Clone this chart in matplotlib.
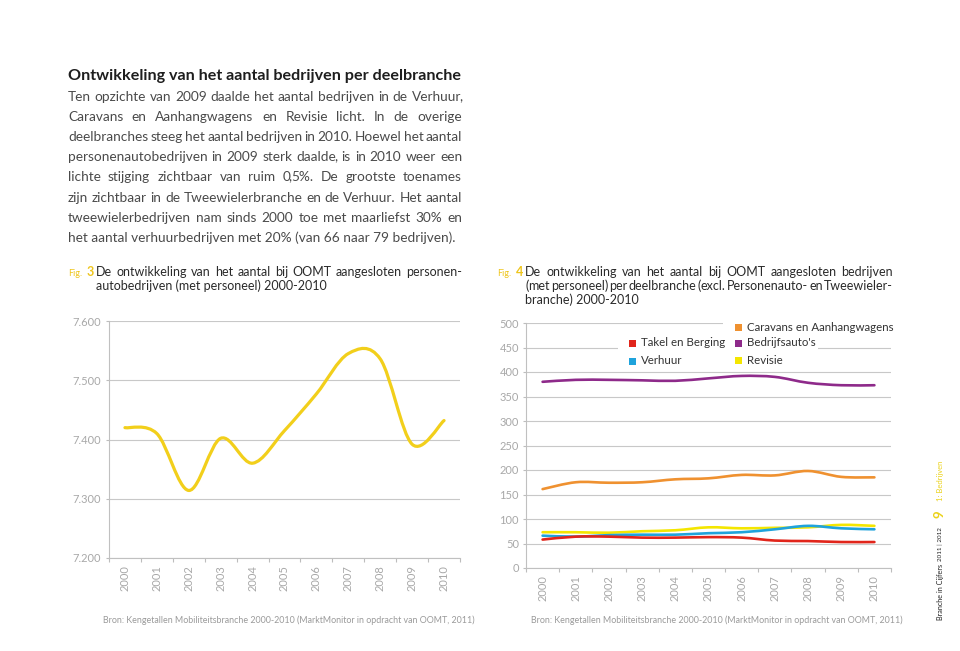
import re
import matplotlib
matplotlib.use('Agg')
import matplotlib.pyplot as plt
from matplotlib.path import Path
from matplotlib.patches import PathPatch, Rectangle
import numpy as np

plt.rcParams['font.family'] = ['Lato', 'DejaVu Sans']

years = ['2000', '2001', '2002', '2003', '2004', '2005', '2006', '2007', '2008', '2009', '2010']

# fig. 3 - personenautobedrijven
personenauto = [7420, 7410, 7314, 7402, 7360, 7415, 7477, 7545, 7536, 7392, 7432]
left_ticks = [7200, 7300, 7400, 7500, 7600]
left_labels = ['7.200', '7.300', '7.400', '7.500', '7.600']

# fig. 4 - per deelbranche
takel = [58, 64, 64, 62, 62, 63, 62, 56, 55, 53, 53]
verhuur = [66, 64, 67, 68, 68, 71, 73, 79, 86, 81, 79]
caravans = [161, 175, 174, 175, 181, 183, 190, 189, 198, 186, 185]
bedrijfsauto = [380, 384, 384, 383, 382, 387, 392, 390, 378, 373, 373]
revisie = [73, 73, 72, 75, 77, 83, 81, 82, 83, 88, 86]
right_ticks = [0, 50, 100, 150, 200, 250, 300, 350, 400, 450, 500]

heading = 'Ontwikkeling van het aantal bedrijven per deelbranche'
body = ['Ten opzichte van 2009 daalde het aantal bedrijven in de Verhuur,',
        'Caravans en Aanhangwagens en Revisie licht. In de overige',
        'deelbranches steeg het aantal bedrijven in 2010. Hoewel het aantal',
        'personenautobedrijven in 2009 sterk daalde, is in 2010 weer een',
        'lichte stijging zichtbaar van ruim 0,5%. De grootste toenames',
        'zijn zichtbaar in de Tweewielerbranche en de Verhuur. Het aantal',
        'tweewielerbedrijven nam sinds 2000 toe met maarliefst 30% en',
        'het aantal verhuurbedrijven met 20% (van 66 naar 79 bedrijven).']
cap3 = ['De ontwikkeling van het aantal bij OOMT aangesloten personen-',
        'autobedrijven (met personeel) 2000-2010']
cap4 = ['De ontwikkeling van het aantal bij OOMT aangesloten bedrijven',
        '(met personeel) per deelbranche (excl. Personenauto- en Tweewieler-',
        'branche) 2000-2010']
bron = 'Bron: Kengetallen Mobiliteitsbranche 2000-2010 (MarktMonitor in opdracht van OOMT, 2011)'

W, H = 960, 651
fig = plt.figure(figsize=(9.6, 6.51), dpi=100)
r = fig.canvas.get_renderer()

def fx(x):
    return x / W

def fy(y):
    return 1 - y / H

def justify(line, x0, x1, y, **kw):
    # y is the baseline in pixels; commas get their own text so words stay on the baseline
    words = []
    for w in line.split():
        parts = [p for p in re.split(r'([,()])', w) if p]
        arts = [fig.text(0, fy(y), p, va='baseline', **kw) for p in parts]
        widths = [a.get_window_extent(r).width for a in arts]
        shifts = [-2 if p == ',' else 0 for p in parts]
        words.append((arts, widths, shifts))
    total = sum(sum(ws) + sum(sh) for _, ws, sh in words)
    gap = (x1 - x0 - total) / (len(words) - 1)
    x = x0
    for arts, widths, shifts in words:
        for a, w, s in zip(arts, widths, shifts):
            x += s
            a.set_x(fx(x))
            x += w
        x += gap

def smooth(ax, y, color, lw):
    # bezier smoothing like the "smoothed line" option
    pts = np.column_stack([np.arange(len(y)), y]).astype(float)
    p = np.vstack([pts[0], pts, pts[-1]])
    verts = [pts[0]]
    codes = [Path.MOVETO]
    for i in range(len(pts) - 1):
        c1 = p[i + 1] + (p[i + 2] - p[i]) / 6
        c2 = p[i + 2] - (p[i + 3] - p[i + 1]) / 6
        verts += [c1, c2, pts[i + 1]]
        codes += [Path.CURVE4] * 3
    ax.add_patch(PathPatch(Path(verts, codes), fill=False, edgecolor=color,
                           lw=lw, capstyle='round', joinstyle='round', zorder=3))

def style(ax, ticks, labels, pad):
    ax.set_xlim(-0.5, 10.5)
    ax.set_ylim(ticks[0], ticks[-1])
    ax.set_yticks(ticks)
    ax.set_yticklabels(labels)
    ax.set_xticks(np.arange(-0.5, 11, 1))
    ax.set_xticklabels([])
    ax.set_xticks(range(11), minor=True)
    ax.set_xticklabels(years, minor=True, rotation=90)
    ax.tick_params(axis='x', which='major', length=3, color='#bdbdbd', width=0.8)
    ax.tick_params(axis='x', which='minor', length=0, pad=5, labelsize=8, labelcolor='#a8a8a8')
    ax.tick_params(axis='y', length=2, color='#bdbdbd', pad=pad, labelsize=8, labelcolor='#a8a8a8')
    ax.grid(axis='y', color='#c8c8c8', lw=0.8)
    for s in ['top', 'right']:
        ax.spines[s].set_visible(False)
    for s in ['left', 'bottom']:
        ax.spines[s].set_color('#c0c0c0')
        ax.spines[s].set_linewidth(0.8)

# text block
fig.text(fx(68), fy(76), heading, fontsize=11.6, fontweight='bold', color='#1e1e1e', va='center')
for i, line in enumerate(body):
    y = 101 + 20.1 * i
    if i < len(body) - 1:
        justify(line, 68, 462, y, fontsize=9.8, color='#4a4a4a')
    else:
        fig.text(fx(68), fy(y), line, fontsize=9.8, color='#4a4a4a', va='baseline')

# captions
fig.text(fx(68), fy(276), 'Fig.', fontsize=6.5, color='#eec51c', va='baseline')
fig.text(fx(87), fy(276), '3', fontsize=9, fontweight='bold', color='#eec51c', va='baseline')
justify(cap3[0], 96, 462, 276, fontsize=9, color='#2a2a2a')
fig.text(fx(96), fy(290), cap3[1], fontsize=9, color='#2a2a2a', va='baseline')

fig.text(fx(497), fy(276), 'Fig.', fontsize=6.5, color='#eec51c', va='baseline')
fig.text(fx(516), fy(276), '4', fontsize=9, fontweight='bold', color='#eec51c', va='baseline')
justify(cap4[0], 525, 893, 276, fontsize=9, color='#2a2a2a')
justify(cap4[1], 525, 893, 290, fontsize=9, color='#2a2a2a')
fig.text(fx(525), fy(304), cap4[2], fontsize=9, color='#2a2a2a', va='baseline')

# fig. 3
ax1 = fig.add_axes([fx(109), fy(558), (460 - 109) / W, (558 - 321) / H])
style(ax1, left_ticks, left_labels, 4)
smooth(ax1, personenauto, '#f2cf1b', 2.3)

# fig. 4
ax2 = fig.add_axes([fx(526), fy(568), (891 - 526) / W, (568 - 323) / H])
style(ax2, right_ticks, [str(t) for t in right_ticks], 3)
smooth(ax2, bedrijfsauto, '#8e2a8a', 1.9)
smooth(ax2, caravans, '#ef9130', 1.9)
smooth(ax2, revisie, '#f4e600', 1.9)
smooth(ax2, verhuur, '#1fa3dc', 1.9)
smooth(ax2, takel, '#e1251b', 1.9)

# legend (gridlines are broken behind it)
fig.add_artist(Rectangle((fx(618), fy(355)), 200 / W, 14 / H, transform=fig.transFigure,
                         facecolor='white', edgecolor='none', zorder=2))
fig.add_artist(Rectangle((fx(723), fy(331)), 175 / W, 14 / H, transform=fig.transFigure,
                         facecolor='white', edgecolor='none', zorder=2))
legend = [('Takel en Berging', '#e1251b', 632, 343),
          ('Verhuur', '#1fa3dc', 632, 361),
          ('Caravans en Aanhangwagens', '#ef9130', 738, 327),
          ("Bedrijfsauto's", '#8e2a8a', 738, 343),
          ('Revisie', '#f4e600', 738, 360)]
for lab, c, x, y in legend:
    fig.add_artist(Rectangle((fx(x - 3.5), fy(y + 3.5)), 7 / W, 7 / H, transform=fig.transFigure,
                             facecolor=c, edgecolor='none', zorder=3))
    fig.text(fx(x + 9), fy(y), lab, fontsize=8.3, color='#333333', va='center', zorder=3)

# sources
fig.text(fx(103), fy(620), bron, fontsize=6.4, color='#9a9a9a', va='center')
fig.text(fx(531), fy(620), bron, fontsize=6.4, color='#9a9a9a', va='center')

# page margin
fig.text(fx(940), fy(620), 'Branche in Cijfers', rotation=90, fontsize=5.2, color='#222222',
         ha='center', va='bottom')
fig.text(fx(940), fy(561), '2011 | 2012', rotation=90, fontsize=4.5, color='#222222',
         ha='center', va='bottom')
fig.text(fx(940), fy(518), '9', rotation=90, fontsize=9.5, fontweight='bold', color='#ebd21a',
         ha='center', va='bottom')
fig.text(fx(940), fy(501), '1: Bedrijven', rotation=90, fontsize=5.5, color='#ebd21a',
         ha='center', va='bottom')

fig.savefig('out.png', dpi=100)
